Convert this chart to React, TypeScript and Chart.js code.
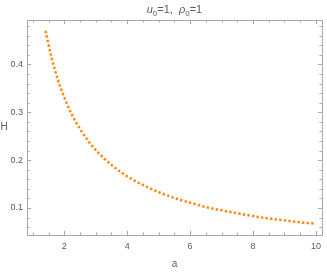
import React, { useEffect, useRef } from "react";
import { Chart, registerables } from "chart.js";

Chart.register(...registerables);

// Data
const A_VALUES = [1.4, 1.6, 1.8, 2.0, 2.25, 2.5, 2.75, 3.0, 3.5, 4.0, 4.5, 5.0, 5.5, 6.0, 6.5, 7.0, 7.5, 8.0, 8.5, 9.0, 9.5, 10.0];
const H_VALUES = [0.470, 0.413, 0.367, 0.331, 0.294, 0.265, 0.241, 0.221, 0.190, 0.166, 0.148, 0.133, 0.121, 0.111, 0.102, 0.095, 0.089, 0.083, 0.078, 0.074, 0.070, 0.067];
const X_TICKS = [2, 4, 6, 8, 10];
const Y_TICKS = [0.1, 0.2, 0.3, 0.4];
const X_MINOR = [1, 1.5, 2.5, 3, 3.5, 4.5, 5, 5.5, 6.5, 7, 7.5, 8.5, 9, 9.5];
const Y_MINOR = [0.06, 0.08, 0.12, 0.14, 0.16, 0.18, 0.22, 0.24, 0.26, 0.28, 0.32, 0.34, 0.36, 0.38, 0.42, 0.44, 0.46, 0.48];
const X_LABEL = "a";
const Y_LABEL = "H";

const FONT = "'Liberation Sans', Arial, sans-serif";
const TEXT_COLOR = "#5a5a5a";
const FRAME_COLOR = "#a8a8a8";

const framePlugin = {
  id: "frameTicks",
  afterDraw(chart: any) {
    const { ctx, chartArea } = chart;
    const xs = chart.scales.x;
    const ys = chart.scales.y;
    const { left, right, top, bottom } = chartArea;
    ctx.save();
    ctx.strokeStyle = FRAME_COLOR;
    ctx.lineWidth = 1;
    ctx.strokeRect(Math.round(left) + 0.5, Math.round(top) + 0.5, Math.round(right - left), Math.round(bottom - top));
    const drawX = (v: number, len: number) => {
      const px = Math.round(xs.getPixelForValue(v)) + 0.5;
      ctx.beginPath();
      ctx.moveTo(px, bottom);
      ctx.lineTo(px, bottom - len);
      ctx.moveTo(px, top);
      ctx.lineTo(px, top + len);
      ctx.stroke();
    };
    const drawY = (v: number, len: number) => {
      const py = Math.round(ys.getPixelForValue(v)) + 0.5;
      ctx.beginPath();
      ctx.moveTo(left, py);
      ctx.lineTo(left + len, py);
      ctx.moveTo(right, py);
      ctx.lineTo(right - len, py);
      ctx.stroke();
    };
    X_TICKS.forEach((v) => drawX(v, 4));
    X_MINOR.forEach((v) => drawX(v, 2.5));
    Y_TICKS.forEach((v) => drawY(v, 4));
    Y_MINOR.forEach((v) => drawY(v, 2.5));

    // axis labels
    ctx.fillStyle = TEXT_COLOR;
    ctx.font = `10px ${FONT}`;
    ctx.textAlign = "center";
    ctx.textBaseline = "middle";
    ctx.fillText(X_LABEL, (left + right) / 2, 264);
    ctx.fillText(Y_LABEL, 4, (top + bottom) / 2);

    // title: u0=1,  ρ0=1 with italic symbols and subscripts
    const parts: [string, string, number][] = [
      ["u", `italic 11px ${FONT}`, 0],
      ["0", `8px ${FONT}`, 3],
      ["=1,  ", `11px ${FONT}`, 0],
      ["ρ", `italic 11px ${FONT}`, 0],
      ["0", `8px ${FONT}`, 3],
      ["=1", `11px ${FONT}`, 0],
    ];
    let total = 0;
    parts.forEach(([t, f]) => {
      ctx.font = f;
      total += ctx.measureText(t).width;
    });
    let x = (left + right) / 2 - total / 2;
    ctx.textAlign = "left";
    ctx.textBaseline = "alphabetic";
    parts.forEach(([t, f, dy]) => {
      ctx.font = f;
      ctx.fillText(t, x, 13 + dy);
      x += ctx.measureText(t).width;
    });
    ctx.restore();
  },
};

export default function App() {
  const ref = useRef<HTMLCanvasElement | null>(null);
  useEffect(() => {
    if (!ref.current) return;
    const chart = new Chart(ref.current, {
      type: "line",
      data: {
        datasets: [
          {
            data: A_VALUES.map((a, i) => ({ x: a, y: H_VALUES[i] })),
            borderColor: "rgb(255,135,20)",
            borderWidth: 2.5,
            borderDash: [2.4, 2.2],
            borderCapStyle: "butt",
            pointRadius: 0,
            cubicInterpolationMode: "monotone",
            fill: false,
          },
        ],
      },
      options: {
        responsive: false,
        animation: false,
        layout: { padding: { left: 0, right: 5, top: 20, bottom: 0 } },
        plugins: { legend: { display: false }, tooltip: { enabled: false }, title: { display: false } },
        scales: {
          x: {
            type: "linear",
            min: 0.814,
            max: 10.19,
            afterBuildTicks: (s: any) => {
              s.ticks = X_TICKS.map((v) => ({ value: v }));
            },
            afterFit: (s: any) => {
              s.height = 38;
            },
            grid: { display: false, drawTicks: false },
            border: { display: false },
            ticks: {
              color: TEXT_COLOR,
              font: { family: FONT, size: 9 },
              padding: 6,
              maxRotation: 0,
              callback: (v: any) => String(v),
            },
          },
          y: {
            type: "linear",
            min: 0.0435,
            max: 0.4927,
            afterBuildTicks: (s: any) => {
              s.ticks = Y_TICKS.map((v) => ({ value: v }));
            },
            afterFit: (s: any) => {
              s.width = 27;
            },
            grid: { display: false, drawTicks: false },
            border: { display: false },
            ticks: {
              color: TEXT_COLOR,
              font: { family: FONT, size: 9 },
              padding: 4,
              callback: (v: any) => Number(v).toFixed(1),
            },
          },
        },
      },
      plugins: [framePlugin],
    } as any);
    return () => chart.destroy();
  }, []);
  return (
    <div style={{ position: "fixed", left: 0, top: 0, width: 327, height: 273, background: "#fff" }}>
      <canvas ref={ref} width={327} height={273} style={{ display: "block" }} />
    </div>
  );
}
